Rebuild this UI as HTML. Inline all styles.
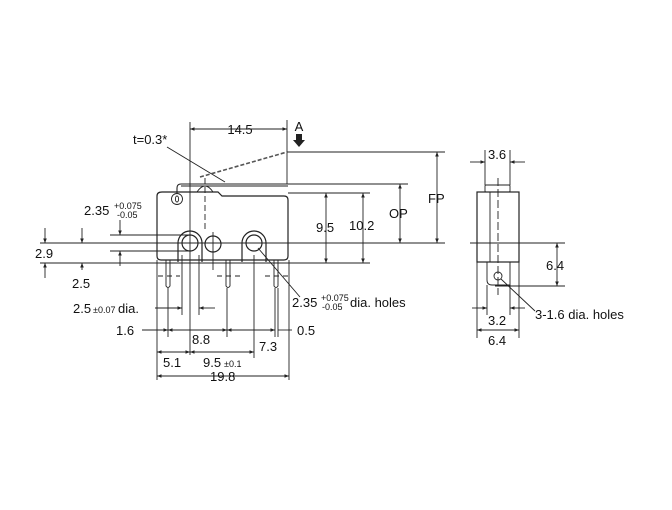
<!DOCTYPE html>
<html><head><meta charset="utf-8"><style>
html,body{margin:0;padding:0;background:#fff}
svg{display:block}
text{font-family:"Liberation Sans",Arial,sans-serif;fill:#111;font-size:13px}
.s{font-size:9px}
</style></head><body>
<svg width="672" height="510" viewBox="0 0 672 510" xmlns="http://www.w3.org/2000/svg">
<defs>
<marker id="a" viewBox="0 0 10 10" refX="10" refY="5" markerWidth="7" markerHeight="5" orient="auto-start-reverse"><path d="M0,1 L10,5 L0,9 Z" fill="#222"/></marker>
</defs>
<g stroke="#222" stroke-width="0.9" fill="none">
<line x1="190" y1="122" x2="190" y2="355"/>
<line x1="287" y1="120" x2="287" y2="184"/>
<line x1="287" y1="152" x2="445" y2="152"/>
<line x1="288" y1="184" x2="408" y2="184"/>
<line x1="288" y1="193" x2="370" y2="193"/>
<line x1="40" y1="243" x2="445" y2="243"/>
<line x1="40" y1="263" x2="370" y2="263"/>
<line x1="110" y1="235" x2="190" y2="235"/>
<line x1="110" y1="251" x2="190" y2="251"/>
<line x1="157" y1="260" x2="157" y2="380"/>
<line x1="168" y1="288" x2="168" y2="337"/>
<line x1="182" y1="255" x2="182" y2="315"/>
<line x1="199" y1="255" x2="199" y2="315"/>
<line x1="227" y1="288" x2="227" y2="337"/>
<line x1="254" y1="255" x2="254" y2="358"/>
<line x1="275" y1="288" x2="275" y2="337"/>
<line x1="278" y1="288" x2="278" y2="337"/>
<line x1="289" y1="260" x2="289" y2="380"/>
<line x1="190" y1="129" x2="287" y2="129" marker-start="url(#a)" marker-end="url(#a)"/>
<line x1="437" y1="152" x2="437" y2="243" marker-start="url(#a)" marker-end="url(#a)"/>
<line x1="400" y1="184" x2="400" y2="243" marker-start="url(#a)" marker-end="url(#a)"/>
<line x1="326" y1="193" x2="326" y2="263" marker-start="url(#a)" marker-end="url(#a)"/>
<line x1="363" y1="193" x2="363" y2="263" marker-start="url(#a)" marker-end="url(#a)"/>
<line x1="120" y1="220" x2="120" y2="235" marker-end="url(#a)"/>
<line x1="120" y1="266" x2="120" y2="251" marker-end="url(#a)"/>
<line x1="45" y1="228" x2="45" y2="243" marker-end="url(#a)"/>
<line x1="45" y1="278" x2="45" y2="263" marker-end="url(#a)"/>
<line x1="82" y1="228" x2="82" y2="243" marker-end="url(#a)"/>
<line x1="82" y1="270" x2="82" y2="263" marker-end="url(#a)"/>
<line x1="155" y1="308" x2="182" y2="308" marker-end="url(#a)"/>
<line x1="215" y1="308" x2="199" y2="308" marker-end="url(#a)"/>
<line x1="142" y1="330" x2="168" y2="330" marker-end="url(#a)"/>
<line x1="168" y1="330" x2="227" y2="330" marker-start="url(#a)" marker-end="url(#a)"/>
<line x1="227" y1="330" x2="275" y2="330" marker-start="url(#a)" marker-end="url(#a)"/>
<line x1="292" y1="330" x2="278" y2="330"/>
<line x1="157" y1="352" x2="190" y2="352" marker-start="url(#a)" marker-end="url(#a)"/>
<line x1="190" y1="352" x2="254" y2="352" marker-start="url(#a)" marker-end="url(#a)"/>
<line x1="157" y1="376" x2="289" y2="376" marker-start="url(#a)" marker-end="url(#a)"/>
<line x1="167" y1="147" x2="225" y2="182"/>
<line x1="258" y1="248" x2="300" y2="297"/>
<path d="M162,192 H218 L222,196 H284 Q288,196 288,200 V256 Q288,260 284,260 H161 Q157,260 157,256 V196 Q157,192 162,192 Z" stroke-width="1.2"/>
<path d="M177,193 V188 Q177,184 181,184 H288 M181,186 H288" stroke-width="1.1"/>
<circle cx="177" cy="199" r="5.5"/>
<ellipse cx="177" cy="199" rx="1.6" ry="3"/>
<path d="M197,192 Q205,180 213,192"/>
<line x1="205" y1="178" x2="205" y2="232" stroke-dasharray="6,3"/>
<line x1="200" y1="177" x2="287" y2="152" stroke-dasharray="4,2" stroke-width="1.6" stroke="#555"/>
<path d="M178,262 V243 A12,12 0 0 1 202,243 V262" stroke-width="1.2"/>
<circle cx="190" cy="243" r="8" stroke-width="1.2"/>
<circle cx="213" cy="244" r="8" stroke-width="1.2"/>
<path d="M242,262 V243 A12,12 0 0 1 266,243 V262" stroke-width="1.2"/>
<circle cx="254" cy="243" r="8" stroke-width="1.2"/>
<line x1="213" y1="232" x2="213" y2="270"/>
<path d="M166,260 V286 Q168,289 170,286 V260"/>
<path d="M226,260 V286 Q228,289 230,286 V260"/>
<path d="M274,260 V286 Q276,289 278,286 V260"/>
<g stroke-dasharray="5,4"><line x1="158" y1="276" x2="180" y2="276"/><line x1="217" y1="276" x2="240" y2="276"/><line x1="265" y1="276" x2="288" y2="276"/></g>
<rect x="485" y="185" width="25" height="7" rx="1"/>
<rect x="477" y="192" width="42" height="70" stroke-width="1.2"/>
<line x1="490" y1="192" x2="490" y2="262"/>
<path d="M487,262 V280 Q487,285 492,285 H510 V262"/>
<circle cx="498" cy="276" r="4"/>
<line x1="498" y1="178" x2="498" y2="295" stroke-dasharray="8,3"/>
<line x1="485" y1="150" x2="485" y2="185"/><line x1="510" y1="150" x2="510" y2="185"/>
<line x1="470" y1="162" x2="485" y2="162" marker-end="url(#a)"/><line x1="525" y1="162" x2="510" y2="162" marker-end="url(#a)"/>
<line x1="470" y1="243" x2="565" y2="243"/>
<line x1="495" y1="286" x2="565" y2="286"/>
<line x1="557" y1="243" x2="557" y2="286" marker-start="url(#a)" marker-end="url(#a)"/>
<line x1="487" y1="285" x2="487" y2="315"/><line x1="510" y1="285" x2="510" y2="315"/>
<line x1="477" y1="262" x2="477" y2="338"/><line x1="519" y1="262" x2="519" y2="338"/>
<line x1="472" y1="308" x2="487" y2="308" marker-end="url(#a)"/><line x1="525" y1="308" x2="510" y2="308" marker-end="url(#a)"/>
<line x1="477" y1="330" x2="519" y2="330" marker-start="url(#a)" marker-end="url(#a)"/>
<line x1="501" y1="279" x2="535" y2="311"/>
</g>
<path d="M296,134 h6 v6 h3 l-6,7 l-6,-7 h3 z" fill="#222"/>
<text x="240" y="134" text-anchor="middle">14.5</text>
<text x="299" y="131" text-anchor="middle">A</text>
<text x="133" y="144">t=0.3*</text>
<text x="84" y="215">2.35</text><text x="114" y="209" class="s">+0.075</text><text x="117" y="218" class="s">-0.05</text>
<text x="35" y="258">2.9</text>
<text x="72" y="288">2.5</text>
<text x="73" y="313">2.5</text><text x="93" y="313" class="s">±0.07</text><text x="118" y="313">dia.</text>
<text x="116" y="335">1.6</text>
<text x="192" y="344">8.8</text>
<text x="259" y="351">7.3</text>
<text x="297" y="335">0.5</text>
<text x="163" y="367">5.1</text>
<text x="203" y="367">9.5</text><text x="224" y="367" class="s">±0.1</text>
<text x="210" y="381">19.8</text>
<text x="292" y="307">2.35</text><text x="321" y="301" class="s">+0.075</text><text x="322" y="310" class="s">-0.05</text><text x="350" y="307">dia. holes</text>
<text x="316" y="232">9.5</text>
<text x="349" y="230">10.2</text>
<text x="389" y="218">OP</text>
<text x="428" y="203">FP</text>
<text x="488" y="159">3.6</text>
<text x="546" y="270">6.4</text>
<text x="488" y="325">3.2</text>
<text x="488" y="345">6.4</text>
<text x="535" y="319">3-1.6 dia. holes</text>
</svg>
</body></html>
